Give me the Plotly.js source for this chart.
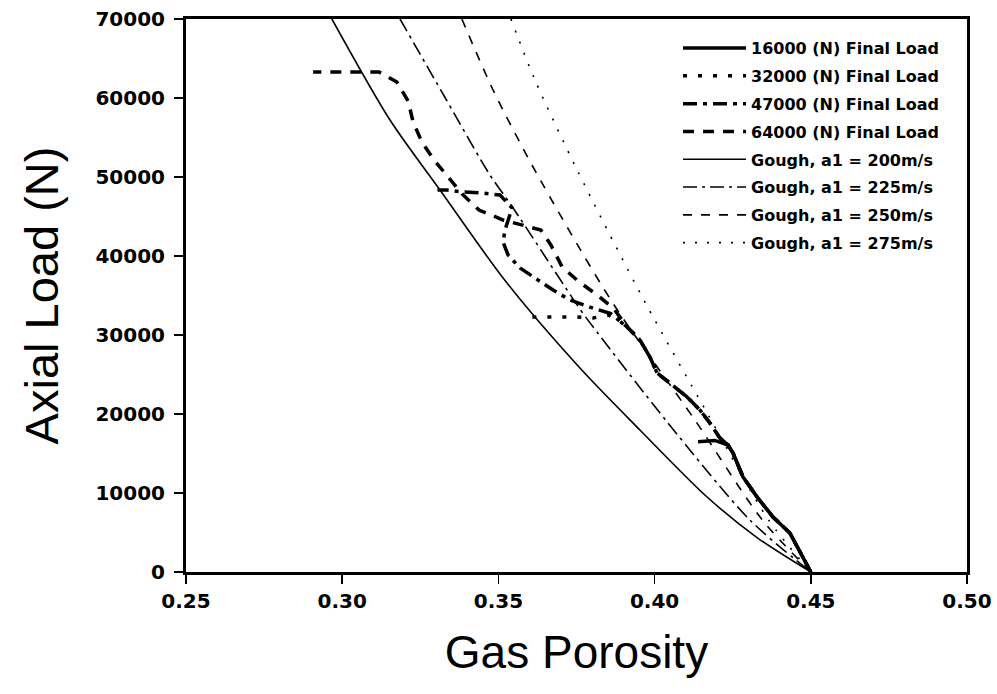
<!DOCTYPE html>
<html>
<head>
<meta charset="utf-8">
<script src="https://cdn.plot.ly/plotly-3.0.1.min.js"></script>
<style>html,body{margin:0;padding:0;background:#fff;}#chart{width:997px;height:694px;}</style>
</head>
<body>
<div id="chart"></div>
<script>
// Experimental curves (Gas Porosity vs Axial Load, N)
var x16 = [0.4500,0.4466,0.4433,0.4379,0.4328,0.4283,0.4251,0.4235,0.4193,0.4139];
var y16 = [0,2405,4937,6962,9494,12025,15063,16076,16650,16500];

var x32 = [0.4500,0.4466,0.4433,0.4379,0.4328,0.4283,0.4251,0.4235,0.4209,0.4177,0.4145,0.4104,0.4049,0.4008,0.3985,0.3953,0.3912,0.3880,0.3851,0.3803,0.3752,0.3701,0.3648,0.3595];
var y32 = [0,2405,4937,6962,9494,12025,15063,16076,16962,18861,20506,22152,23924,25190,27215,29367,31013,32025,32530,32150,32278,32278,32278,32278];

var x47 = [0.4500,0.4466,0.4433,0.4379,0.4328,0.4283,0.4251,0.4235,0.4209,0.4177,0.4145,0.4104,0.4049,0.4008,0.3985,0.3953,0.3912,0.3860,0.3804,0.3729,0.3675,0.3617,0.3569,0.3531,0.3515,0.3521,0.3544,0.3505,0.3447,0.3387,0.3335,0.3305];
var y47 = [0,2405,4937,6962,9494,12025,15063,16076,16962,18861,20506,22152,23924,25190,27215,29367,31013,32700,33380,34430,35696,37215,38481,40127,41772,43291,46076,47722,47975,48100,48354,48354];

var x64 = [0.4500,0.4466,0.4433,0.4379,0.4328,0.4283,0.4251,0.4235,0.4209,0.4177,0.4145,0.4104,0.4049,0.4008,0.3985,0.3953,0.3912,0.3870,0.3816,0.3755,0.3704,0.3668,0.3636,0.3515,0.3438,0.3385,0.3339,0.3294,0.3255,0.3227,0.3211,0.3175,0.3118,0.3054,0.2977,0.2907];
var y64 = [0,2405,4937,6962,9494,12025,15063,16076,16962,18861,20506,22152,23924,25190,27215,29367,31013,33300,35063,36835,38608,41400,43290,44557,45823,47800,50000,52152,54430,56962,59620,62025,63291,63291,63291,63291];

// Gough model curves
var g200x = [0.2967,0.3153,0.3313,0.3520,0.3761,0.3953,0.4168,0.4330,0.4500];
var g200y = [70000,57215,48354,36960,25820,17975,9494,4300,0];
var g225x = [0.3185,0.3330,0.3473,0.3545,0.3763,0.3818,0.4040,0.4305,0.4500];
var g225y = [70000,60000,50253,46200,33165,30253,19000,6582,0];
var g250x = [0.3383,0.3483,0.3611,0.3864,0.4129,0.4345,0.4500];
var g250y = [70000,61013,51266,34177,19240,6582,0];
var g275x = [0.3540,0.3617,0.3752,0.3969,0.4170,0.4365,0.4500];
var g275y = [70000,62278,50886,34177,20000,6582,0];

var names = ["16000 (N) Final Load","32000 (N) Final Load","47000 (N) Final Load","64000 (N) Final Load",
             "Gough, a1 = 200m/s","Gough, a1 = 225m/s","Gough, a1 = 250m/s","Gough, a1 = 275m/s"];
var xTicks = [0.25,0.30,0.35,0.40,0.45,0.50];
var yTicks = [0,10000,20000,30000,40000,50000,60000,70000];

function tr(x, y, i, width, dash, shape) {
  return {x: x, y: y, type: "scatter", mode: "lines", name: names[i], legendgroup: "g" + i,
          line: {color: "#000", width: width, dash: dash, shape: shape || "linear", smoothing: 0.8}};
}
var data = [
  tr(x16, y16, 0, 3.5, "solid"),
  tr(x32, y32, 1, 3.5, "4px,11px"),
  tr(x47, y47, 2, 3.5, "14px,6px,4px,6px"),
  tr(x64, y64, 3, 3.5, "11px,9px"),
  tr(g200x, g200y, 4, 1.6, "solid", "spline"),
  tr(g225x, g225y, 5, 1.6, "14px,5px,3px,5px", "spline"),
  tr(g250x, g250y, 6, 1.6, "9px,9px", "spline"),
  tr(g275x, g275y, 7, 1.6, "2px,10px", "spline")
];

var tickFont = {family: "DejaVu Sans", size: 20, weight: 700, color: "#000"};
var layout = {
  width: 997, height: 694,
  margin: {l: 186, r: 30, t: 19, b: 122},
  paper_bgcolor: "#fff", plot_bgcolor: "#fff",
  showlegend: true,
  legend: {x: 0.63, y: 0.978, xanchor: "left", yanchor: "top", bgcolor: "rgba(0,0,0,0)",
           font: {family: "DejaVu Sans", size: 16, weight: 700, color: "#000"},
           itemwidth: 63, tracegroupgap: 4, traceorder: "grouped"},
  xaxis: {range: [0.25, 0.50], tickvals: xTicks, tickformat: ".2f", showgrid: false, zeroline: false,
          showline: true, linewidth: 3, linecolor: "#000", mirror: true,
          ticks: "outside", ticklen: 9, tickwidth: 1.5, tickcolor: "#000", tickfont: tickFont,
          title: {text: "Gas Porosity", font: {family: "Liberation Sans", size: 46, color: "#000"}, standoff: 24}},
  yaxis: {range: [0, 70000], tickvals: yTicks, tickformat: "d", showgrid: false, zeroline: false,
          showline: true, linewidth: 3, linecolor: "#000", mirror: true,
          ticks: "outside", ticklen: 9, tickwidth: 1.5, tickcolor: "#000", tickfont: tickFont,
          ticklabelstandoff: 5,
          title: {text: "Axial Load (N)", font: {family: "Liberation Sans", size: 47, color: "#000"}, standoff: 22}}
};
Plotly.newPlot("chart", data, layout, {displayModeBar: false, staticPlot: true});
</script>
</body>
</html>
